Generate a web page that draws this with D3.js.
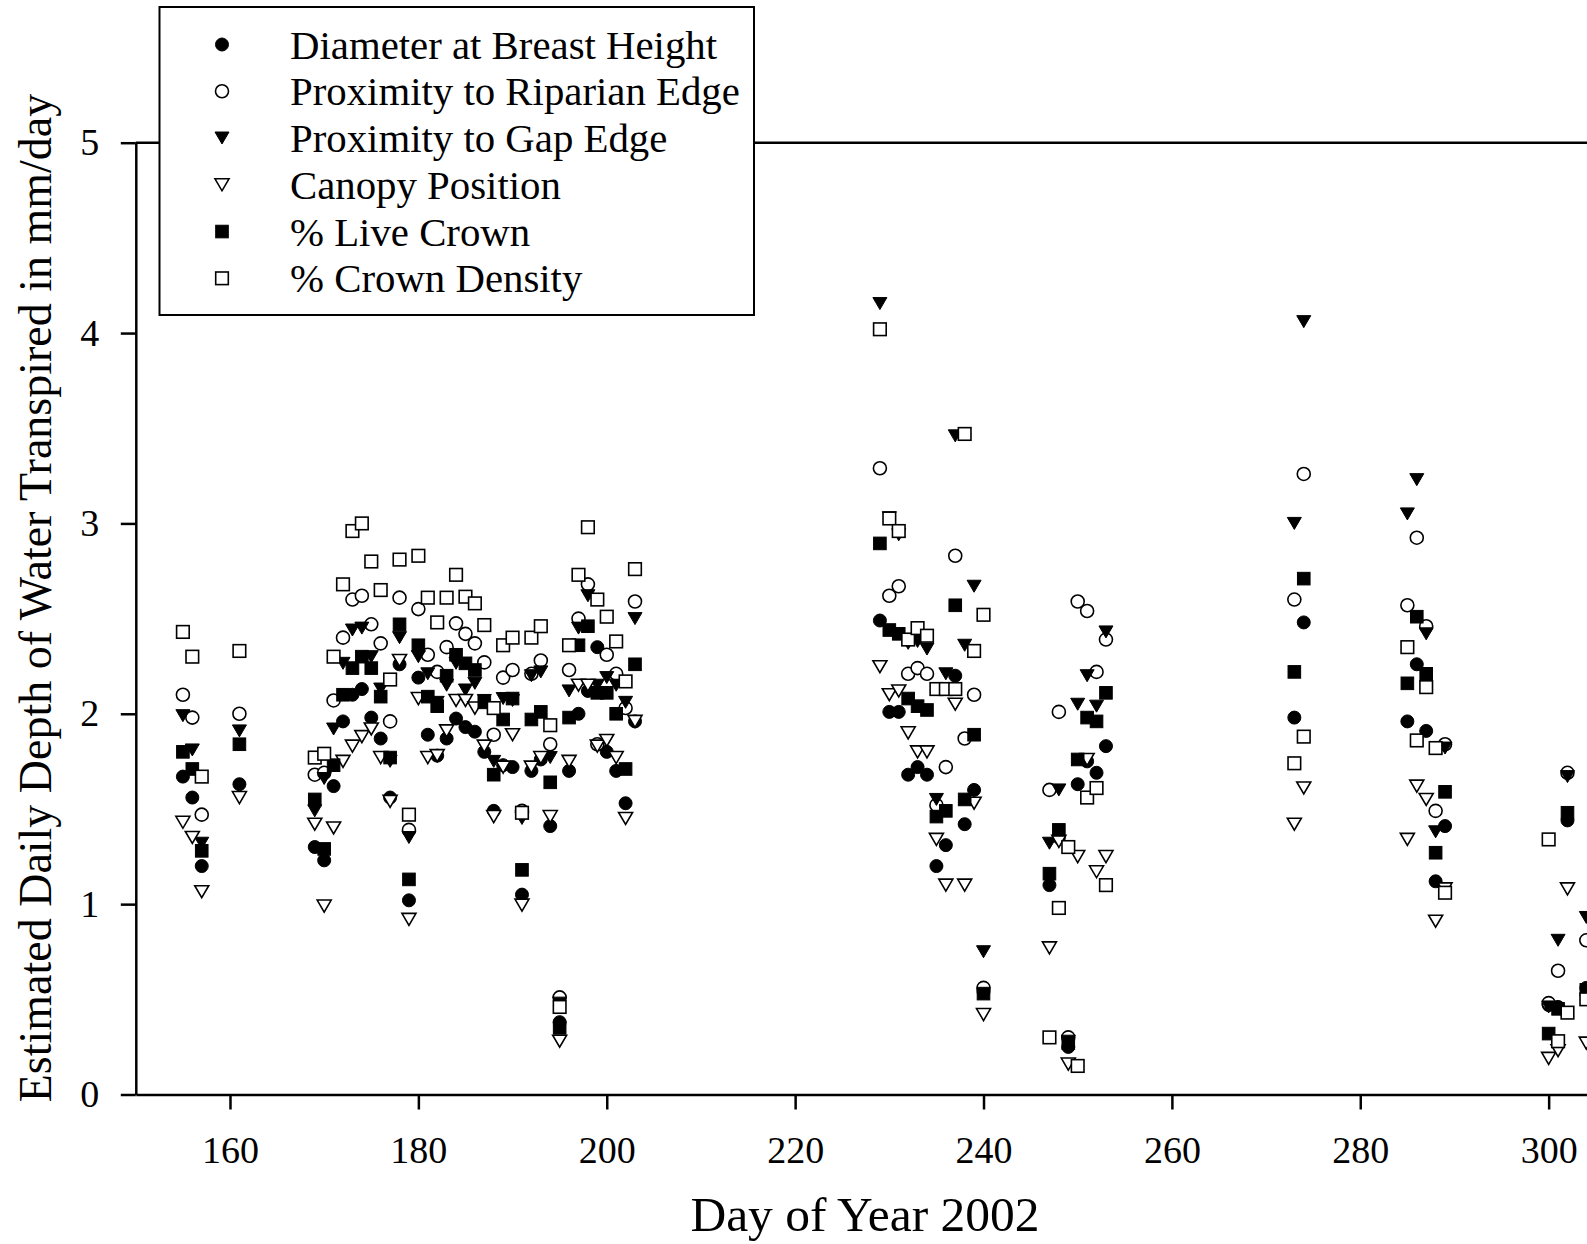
<!DOCTYPE html>
<html><head><meta charset="utf-8">
<script src="https://cdn.jsdelivr.net/npm/d3@7"></script>
<style>body{margin:0;background:#fff} svg{display:block}</style>
</head><body>
<svg id="chart" width="1587" height="1244"></svg>
<script>
// ---- data ----
const days = [155,156,157,161,
  169,170,171,172,173,174,175,176,177,178,179,180,181,182,183,184,185,186,187,188,189,190,191,192,193,194,195,196,197,198,199,200,201,202,203,
  229,230,231,232,233,234,235,236,237,238,239,240,
  247,248,249,250,251,252,253,
  273,274,285,286,287,288,289,
  300,301,302,304];
const dbh = [1.67,1.56,1.20,1.63,
  1.30,1.23,1.62,1.96,2.10,2.13,1.98,1.87,1.56,2.26,1.02,2.19,1.89,1.78,1.87,1.975,1.93,1.906,1.80,1.49,1.73,1.72,1.05,1.70,1.76,1.41,0.38,1.70,2.00,2.12,2.35,1.80,1.70,1.53,1.96,
  2.49,2.01,2.01,1.68,1.72,1.68,1.20,1.31,2.20,1.42,1.60,0.54,
  1.10,1.35,0.25,1.63,1.75,1.69,1.83,
  1.98,2.48,1.96,2.26,1.91,1.12,1.41,
  0.47,0.46,1.44,0.56];
const riparian = [2.10,1.98,1.47,2.00,
  1.68,1.69,2.07,2.40,2.60,2.62,2.47,2.37,1.96,2.61,1.39,2.55,2.31,2.22,2.35,2.475,2.42,2.37,2.27,1.89,2.19,2.23,1.49,2.21,2.28,1.84,0.51,2.23,2.50,2.68,1.84,2.31,2.21,2.03,2.59,
  3.29,2.62,2.67,2.21,2.24,2.21,1.52,1.72,2.83,1.87,2.10,0.56,
  1.60,2.01,0.30,2.59,2.54,2.22,2.39,
  2.60,3.26,2.57,2.925,2.46,1.49,1.84,
  0.48,0.65,1.69,0.81];
const gapEdge = [1.99,1.81,1.32,1.91,
  1.49,1.66,1.92,2.265,2.44,2.45,2.30,2.13,1.75,2.40,1.35,2.30,2.21,2.06,2.15,2.265,2.125,2.16,2.07,1.75,2.08,2.07,1.45,2.20,2.22,1.77,0.48,2.12,2.45,2.62,2.15,2.19,2.15,2.06,2.50,
  4.155,3.03,2.94,2.37,2.38,2.34,1.55,2.21,3.46,2.36,2.67,0.75,
  1.32,1.60,0.28,2.05,2.20,2.04,2.43,
  3.00,4.06,3.05,3.23,2.42,1.38,1.82,
  0.46,0.81,1.67,0.93];
const canopy = [1.43,1.35,1.065,1.56,
  1.42,0.99,1.40,1.75,1.83,1.88,1.92,1.77,1.54,2.28,0.92,2.08,1.77,1.78,1.91,2.07,2.07,2.03,1.83,1.46,1.72,1.89,0.995,1.72,1.77,1.46,0.28,1.75,2.15,2.15,1.83,1.86,1.77,1.45,1.96,
  2.247,2.10,2.12,1.90,1.80,1.80,1.34,1.10,2.05,1.10,1.53,0.42,
  0.77,1.33,0.16,1.25,1.76,1.17,1.25,
  1.42,1.61,1.34,1.62,1.55,0.91,1.08,
  0.19,0.23,1.08,0.27];
const liveCrown = [1.80,1.71,1.28,1.84,
  1.55,1.29,1.73,2.10,2.24,2.30,2.24,2.09,1.77,2.47,1.13,2.36,2.09,2.04,2.20,2.31,2.265,2.23,2.06,1.68,1.97,2.08,1.18,1.97,2.01,1.64,0.35,1.98,2.36,2.46,2.11,2.11,2.00,1.71,2.26,
  2.895,2.44,2.42,2.08,2.04,2.02,1.46,1.49,2.57,1.55,1.89,0.53,
  1.16,1.39,0.27,1.76,1.98,1.96,2.11,
  2.22,2.71,2.16,2.51,2.21,1.27,1.59,
  0.32,0.45,1.48,0.55];
const crownDensity = [2.43,2.30,1.67,2.33,
  1.77,1.79,2.30,2.68,2.96,3.00,2.80,2.65,2.18,2.81,1.47,2.83,2.61,2.48,2.61,2.73,2.615,2.58,2.466,2.03,2.36,2.40,1.48,2.40,2.46,1.94,0.46,2.36,2.73,2.98,2.60,2.51,2.38,2.17,2.76,
  4.02,3.026,2.96,2.39,2.45,2.41,2.13,2.13,2.13,3.47,2.33,2.52,
  0.30,0.98,1.30,0.15,1.56,1.61,1.10,
  1.74,1.88,2.35,1.86,2.14,1.82,1.06,
  1.34,0.28,0.43,0.50];
const seriesNames = ["Diameter at Breast Height","Proximity to Riparian Edge","Proximity to Gap Edge","Canopy Position","% Live Crown","% Crown Density"];
const xTicks = [160,180,200,220,240,260,280,300];
const yTicks = [0,1,2,3,4,5];

// ---- drawing ----
const series = [
  {name: seriesNames[0], values: dbh, shape: "circle", filled: true},
  {name: seriesNames[1], values: riparian, shape: "circle", filled: false},
  {name: seriesNames[2], values: gapEdge, shape: "tri", filled: true},
  {name: seriesNames[3], values: canopy, shape: "tri", filled: false},
  {name: seriesNames[4], values: liveCrown, shape: "square", filled: true},
  {name: seriesNames[5], values: crownDensity, shape: "square", filled: false}
];

const svg = d3.select("#chart");
const font = "'Liberation Serif','Times New Roman',Times,serif";
const x0 = 135.8, pxPerDay = 9.419;
const x = d3.scaleLinear().domain([150, 310]).range([x0, x0 + 160 * pxPerDay]);
const y = d3.scaleLinear().domain([0, 5]).range([1094.5, 142.7]);

function drawMarker(g, shape, filled) {
  let m;
  if (shape === "circle") m = g.append("circle").attr("r", 6.5);
  else if (shape === "square") m = g.append("rect").attr("x", -6.3).attr("y", -6.3).attr("width", 12.6).attr("height", 12.6);
  else m = g.append("path").attr("d", "M-7,-6L7,-6L0,6Z");
  m.attr("fill", filled ? "#000" : "#fff").attr("stroke", "#000").attr("stroke-width", filled ? 1 : 1.6);
}

// top frame line at y=5
svg.append("line").attr("x1", x0).attr("x2", 1587).attr("y1", y(5)).attr("y2", y(5))
  .attr("stroke", "#000").attr("stroke-width", 2.5);

// x axis
const gx = svg.append("g").attr("transform", `translate(0,${y(0)})`)
  .call(d3.axisBottom(x).tickValues(xTicks).tickSize(15).tickSizeOuter(0).tickFormat(d3.format("d")));
gx.select(".domain").attr("stroke-width", 2.5);
gx.selectAll(".tick line").attr("stroke-width", 2.5);
gx.selectAll(".tick text").attr("y", 56).attr("dy", "0.32em")
  .style("font-family", font).style("font-size", "38px").attr("fill", "#000");

// y axis
const gy = svg.append("g").attr("transform", `translate(${x0},0)`)
  .call(d3.axisLeft(y).tickValues(yTicks).tickSize(15).tickSizeOuter(0).tickFormat(d3.format("d")));
gy.select(".domain").attr("stroke-width", 2.5);
gy.selectAll(".tick line").attr("stroke-width", 2.5);
gy.selectAll(".tick text").attr("x", -36.5).attr("dy", "0.32em")
  .style("font-family", font).style("font-size", "38px").attr("fill", "#000");

// points
series.forEach(s => {
  const g = svg.append("g");
  days.forEach((d, i) => {
    const v = s.values[i];
    if (v == null) return;
    const mg = g.append("g").attr("transform", `translate(${x(d)},${y(v)})`);
    drawMarker(mg, s.shape, s.filled);
  });
});

// axis titles
svg.append("text").attr("x", 865).attr("y", 1231).attr("text-anchor", "middle")
  .style("font-family", font).style("font-size", "49.5px").text("Day of Year 2002");
svg.append("text").attr("transform", "translate(51,598) rotate(-90)").attr("text-anchor", "middle")
  .style("font-family", font).style("font-size", "46px")
  .text("Estimated Daily Depth of Water Transpired in mm/day");

// legend
const lg = svg.append("g");
lg.append("rect").attr("x", 159.5).attr("y", 7).attr("width", 594.5).attr("height", 308)
  .attr("fill", "#fff").attr("stroke", "#000").attr("stroke-width", 2);
series.forEach((s, i) => {
  const cy = 44.5 + i * 46.76;
  const mg = lg.append("g").attr("transform", `translate(222,${cy})`);
  drawMarker(mg, s.shape, s.filled);
  lg.append("text").attr("x", 290).attr("y", cy + 14)
    .style("font-family", font).style("font-size", "40.8px").text(s.name);
});
</script></body></html>
